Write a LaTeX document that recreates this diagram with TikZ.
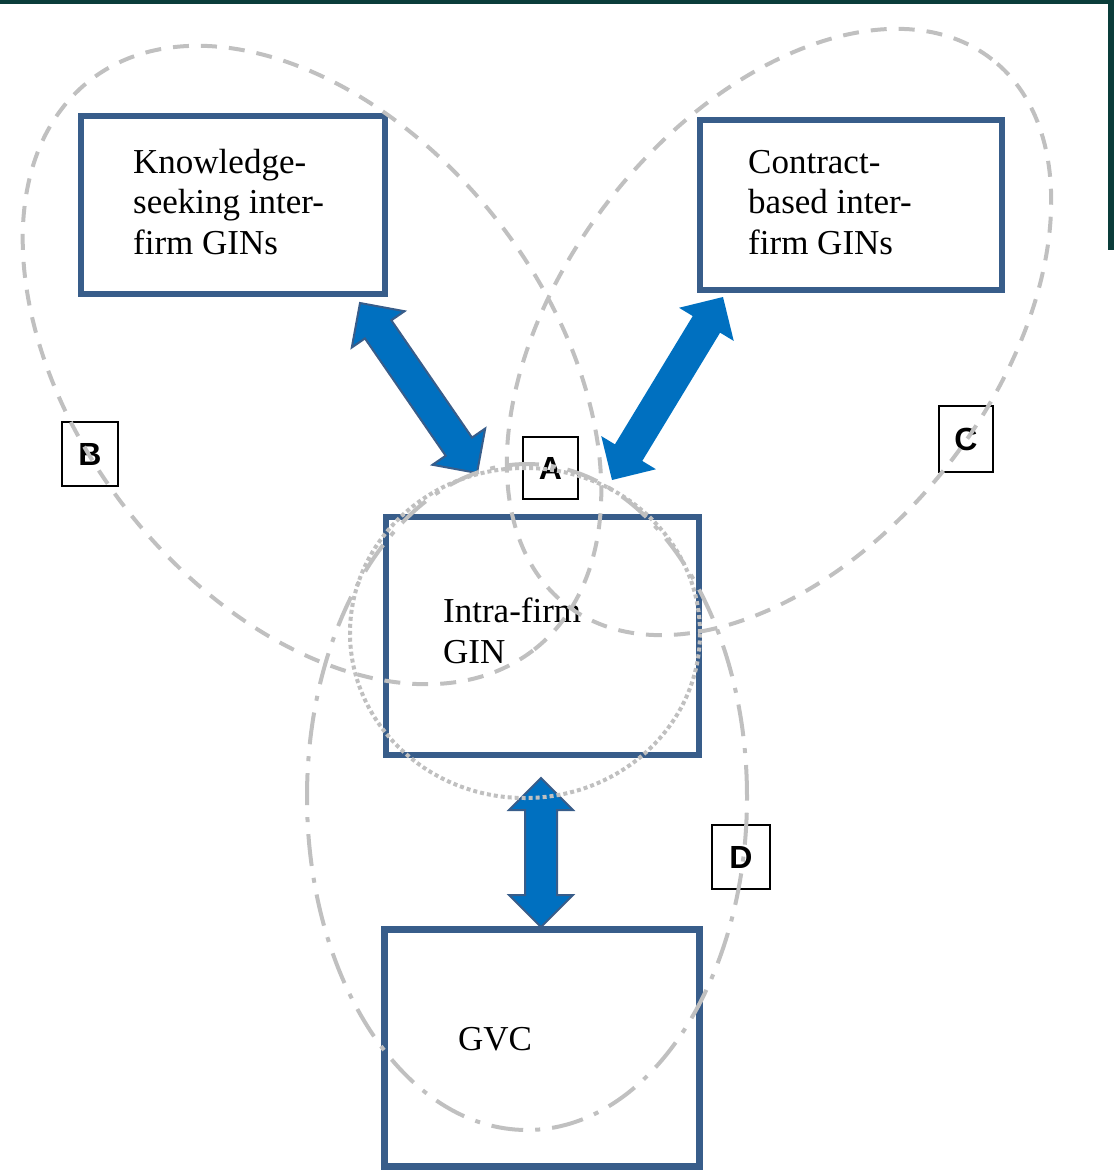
\documentclass[tikz,border=0pt]{standalone}
\usepackage{fontspec}
\setmainfont{Liberation Serif}
\newfontfamily\lblfont{Liberation Sans}
\usetikzlibrary{calc}
\definecolor{boxblue}{RGB}{56,93,138}
\definecolor{arrblue}{RGB}{0,112,192}
\definecolor{ellgray}{RGB}{192,192,192}
\definecolor{frameteal}{RGB}{10,61,58}
\newcommand\arrL{32pt}
\newcommand\arrH{32pt}
\newcommand\arrW{16pt}
\newcommand\dblarrow[3][]{%
  \path[#1] (#2)
    -- ($(#2)!\arrL!(#3)!\arrH!90:(#3)$)
    -- ($(#2)!\arrL!(#3)!\arrW!90:(#3)$)
    -- ($(#3)!\arrL!(#2)!\arrW!-90:(#2)$)
    -- ($(#3)!\arrL!(#2)!\arrH!-90:(#2)$)
    -- (#3)
    -- ($(#3)!\arrL!(#2)!\arrH!90:(#2)$)
    -- ($(#3)!\arrL!(#2)!\arrW!90:(#2)$)
    -- ($(#2)!\arrL!(#3)!\arrW!-90:(#3)$)
    -- ($(#2)!\arrL!(#3)!\arrH!-90:(#3)$)
    -- cycle;}
\begin{document}
\begin{tikzpicture}[x=1pt,y=1pt,
  gbox/.style={draw=boxblue, line width=6pt, rectangle, inner sep=0pt},
  lbl/.style={draw=black, line width=1.8pt, rectangle, inner sep=0pt,
    font=\lblfont\bfseries\fontsize{32}{32}\selectfont},
  txt/.style={anchor=base west, inner sep=0pt, font=\fontsize{35}{40}\selectfont},
  arrout/.style={fill=arrblue, draw=boxblue, line width=2pt, line join=miter},
  arrplain/.style={fill=arrblue},
  dashell/.style={draw=ellgray, line width=4pt, dash pattern=on 16pt off 12pt},
  dotell/.style={draw=ellgray, line width=4pt, dash pattern=on 4pt off 3pt},
  dashdotell/.style={draw=ellgray, line width=4pt, dash pattern=on 32pt off 12pt on 5pt off 12pt}
]
\useasboundingbox (0,0) rectangle (1114,-1172);
% frame remnants
\fill[frameteal] (0,0) rectangle (1114,-4);
\fill[frameteal] (1108,0) rectangle (1114,-250);

% main boxes
\node[gbox, minimum width=304pt, minimum height=178pt] (know) at (233,-205) {};
\node[gbox, minimum width=302pt, minimum height=170pt] (contract) at (851,-205) {};
\node[gbox, minimum width=313pt, minimum height=238pt] (intra) at (542.5,-636) {};
\node[gbox, line width=7pt, minimum width=315pt, minimum height=237pt] (gvc) at (542,-1048) {};

% texts
\node[txt] (k1) at (133,-173) {Knowledge-};
\node[txt] (k2) at (133,-213) {seeking inter-};
\node[txt] (k3) at (133,-254) {firm GINs};
\node[txt] (c1) at (748,-173) {Contract-};
\node[txt] (c2) at (748,-213) {based inter-};
\node[txt] (c3) at (748,-254) {firm GINs};
\node[txt] (i1) at (443,-622) {Intra-firm};
\node[txt] (i2) at (443,-663) {GIN};
\node[txt] (g1) at (458,-1050) {GVC};

% arrow end points
\coordinate (kA) at (360,-303);
\coordinate (kB) at (477,-473);
\coordinate (cA) at (723,-297);
\coordinate (cB) at (612,-480);
\coordinate (gA) at (541,-778);
\coordinate (gB) at (541,-927);
\dblarrow[arrout]{kA}{kB}
\dblarrow[arrplain]{cA}{cB}
\dblarrow[arrout]{gA}{gB}

% letter labels
\node[lbl, minimum width=55pt, minimum height=62pt] (A) at (550.5,-468) {A};
\node[lbl, minimum width=56pt, minimum height=64pt] (B) at (90,-454) {B};
\node[lbl, minimum width=54pt, minimum height=66pt] (C) at (966,-439) {C};
\node[lbl, minimum width=58pt, minimum height=64pt] (D) at (741,-857) {D};

% grouping ellipses
\draw[dashell, rotate around={-52:(312,-365)}] (312,-365) ellipse [x radius=361pt, y radius=235pt];
\draw[dashell, rotate around={52:(779,-332)}] (779,-332) ellipse [x radius=346pt, y radius=215pt];
\draw[dotell] (525,-633) ellipse [x radius=175pt, y radius=165pt];
\draw[dashdotell] (527,-797) ellipse [x radius=220pt, y radius=333pt];
\end{tikzpicture}
\end{document}
